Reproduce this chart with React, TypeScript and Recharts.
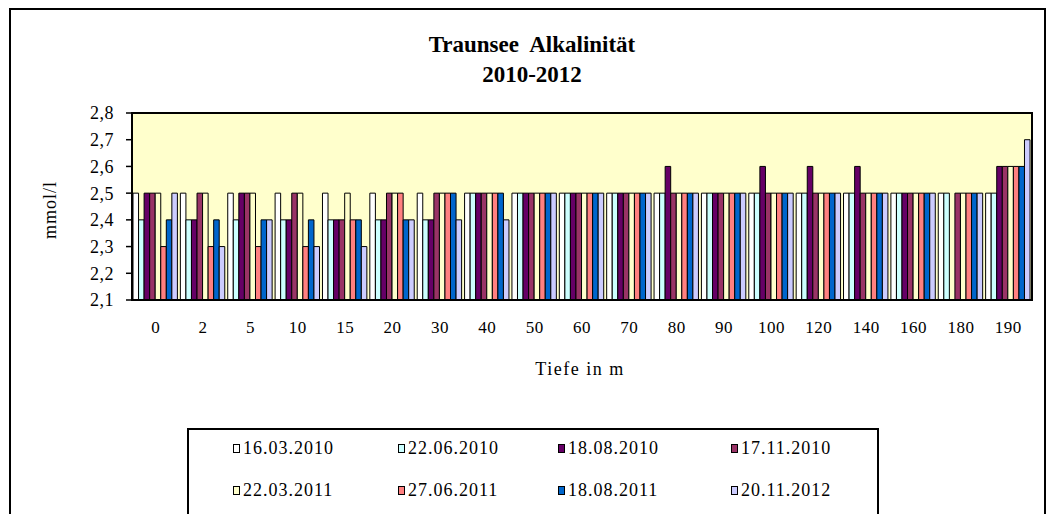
import React from "react";
import { BarChart, Bar, XAxis, YAxis, ReferenceArea } from "recharts";

const depths = ["0", "2", "5", "10", "15", "20", "30", "40", "50", "60", "70", "80", "90", "100", "120", "140", "160", "180", "190"];
const dates = ["16.03.2010", "22.06.2010", "18.08.2010", "17.11.2010", "22.03.2011", "27.06.2011", "18.08.2011", "20.11.2012"];
const colors = ["#FFFFFF", "#CCFFFF", "#660066", "#993366", "#FFFFCC", "#FF8080", "#0066CC", "#CCCCFF"];
const yTicks = [2.1, 2.2, 2.3, 2.4, 2.5, 2.6, 2.7, 2.8];

const mar2010 = [2.5, 2.5, 2.5, 2.5, 2.5, 2.5, 2.5, 2.5, 2.5, 2.5, 2.5, 2.5, 2.5, 2.5, 2.5, 2.5, 2.5, 2.5, 2.5];
const jun2010 = [2.4, 2.4, 2.4, 2.4, 2.4, 2.4, 2.4, 2.5, 2.5, 2.5, 2.5, 2.5, 2.5, 2.5, 2.5, 2.5, 2.5, 2.5, 2.5];
const aug2010 = [2.5, 2.4, 2.5, 2.4, 2.4, 2.4, 2.4, 2.5, 2.5, 2.5, 2.5, 2.6, 2.5, 2.6, 2.6, 2.6, 2.5, null, 2.6];
const nov2010 = [2.5, 2.5, 2.5, 2.5, 2.4, 2.5, 2.5, 2.5, 2.5, 2.5, 2.5, 2.5, 2.5, 2.5, 2.5, 2.5, 2.5, 2.5, 2.6];
const mar2011 = [2.5, 2.5, 2.5, 2.5, 2.5, 2.5, 2.5, 2.5, 2.5, 2.5, 2.5, 2.5, 2.5, 2.5, 2.5, 2.5, 2.5, 2.5, 2.6];
const jun2011 = [2.3, 2.3, 2.3, 2.3, 2.4, 2.5, 2.5, 2.5, 2.5, 2.5, 2.5, 2.5, 2.5, 2.5, 2.5, 2.5, 2.5, 2.5, 2.6];
const aug2011 = [2.4, 2.4, 2.4, 2.4, 2.4, 2.4, 2.5, 2.5, 2.5, 2.5, 2.5, 2.5, 2.5, 2.5, 2.5, 2.5, 2.5, 2.5, 2.6];
const nov2012 = [2.5, 2.3, 2.4, 2.3, 2.3, 2.4, 2.4, 2.4, 2.5, 2.5, 2.5, 2.5, 2.5, 2.5, 2.5, 2.5, 2.5, 2.5, 2.7];

const series = [mar2010, jun2010, aug2010, nov2010, mar2011, jun2011, aug2011, nov2012];

const data = depths.map((depth, i) => {
  const row: Record<string, string | number | null> = { depth };
  series.forEach((s, k) => {
    row["s" + k] = s[i];
  });
  return row;
});

// category boundaries, used for the excel-style tick marks between groups
const boundaries = depths.map((_, i) => i).concat(depths.length);

const font = "'Liberation Serif', 'Times New Roman', serif";

const legendCols = [233, 398, 558, 731];
const legendRows = [448, 490];

export default function App() {
  return (
    <div style={{ position: "absolute", left: 0, top: 0, width: 1054, height: 514, background: "#fff", overflow: "hidden", fontFamily: font }}>
      <div style={{ position: "absolute", left: 9, top: 8, width: 1033, height: 530, border: "2px solid #000" }} />

      <div style={{ position: "absolute", left: 0, width: 1064, top: 30, textAlign: "center", fontWeight: "bold", fontSize: 23, lineHeight: "30px" }}>
        <div>Traunsee&nbsp; Alkalinität</div>
        <div>2010-2012</div>
      </div>

      <div style={{ position: "absolute", left: 50, top: 210, transform: "translate(-50%, -50%) rotate(-90deg)", fontSize: 18, whiteSpace: "nowrap", letterSpacing: 1 }}>
        mmol/l
      </div>

      <div style={{ position: "absolute", left: 0, width: 1160, top: 359, textAlign: "center", fontSize: 18, letterSpacing: 1.5 }}>
        Tiefe in m
      </div>

      <div style={{ position: "absolute", left: 0, top: 0 }}>
        <BarChart width={1054} height={514} data={data} margin={{ top: 113, right: 22, bottom: 174, left: 0 }} barGap={0}>
          <ReferenceArea xAxisId="cat" x1="0" x2="190" y1={2.1} y2={2.8} fill="#FFFFCC" fillOpacity={1} stroke="#000" strokeWidth={2} ifOverflow="visible" />
          {dates.map((d, k) => (
            <Bar
              key={d}
              xAxisId="cat"
              dataKey={"s" + k}
              name={d}
              fill={colors[k]}
              stroke="#000"
              strokeWidth={1}
              barSize={5.55}
              isAnimationActive={false}
            />
          ))}
          <XAxis
            xAxisId="bound"
            type="number"
            domain={[0, depths.length]}
            ticks={boundaries}
            allowDataOverflow
            height={1}
            tick={false}
            tickSize={6}
            axisLine={{ stroke: "#000", strokeWidth: 2 }}
            tickLine={{ stroke: "#000", strokeWidth: 1.5 }}
          />
          <XAxis
            xAxisId="cat"
            dataKey="depth"
            height={39}
            axisLine={false}
            tickLine={false}
            tickSize={0}
            tickMargin={20}
            interval={0}
            tick={{ fill: "#000", fontSize: 17, fontFamily: font, letterSpacing: 0.5 }}
          />
          <YAxis
            width={132}
            domain={[2.1, 2.8]}
            ticks={yTicks}
            allowDataOverflow
            interval={0}
            tickFormatter={(v: number) => v.toFixed(1).replace(".", ",")}
            tickSize={6}
            tickMargin={12}
            axisLine={{ stroke: "#000", strokeWidth: 2 }}
            tickLine={{ stroke: "#000", strokeWidth: 1.5 }}
            tick={{ fill: "#000", fontSize: 18, fontFamily: font, letterSpacing: 0.5 }}
          />
        </BarChart>
      </div>

      <div style={{ position: "absolute", left: 187, top: 428, width: 688, height: 100, border: "2px solid #000", background: "#fff" }} />
      {dates.map((d, k) => {
        const col = legendCols[k % 4];
        const row = legendRows[Math.floor(k / 4)];
        return (
          <div key={d} style={{ position: "absolute", left: col, top: row - 11, height: 22, display: "flex", alignItems: "center", fontSize: 18, letterSpacing: 1 }}>
            <span style={{ display: "inline-block", width: 5, height: 7, border: "1.5px solid #000", background: colors[k], marginRight: 3 }} />
            <span>{d}</span>
          </div>
        );
      })}
    </div>
  );
}
